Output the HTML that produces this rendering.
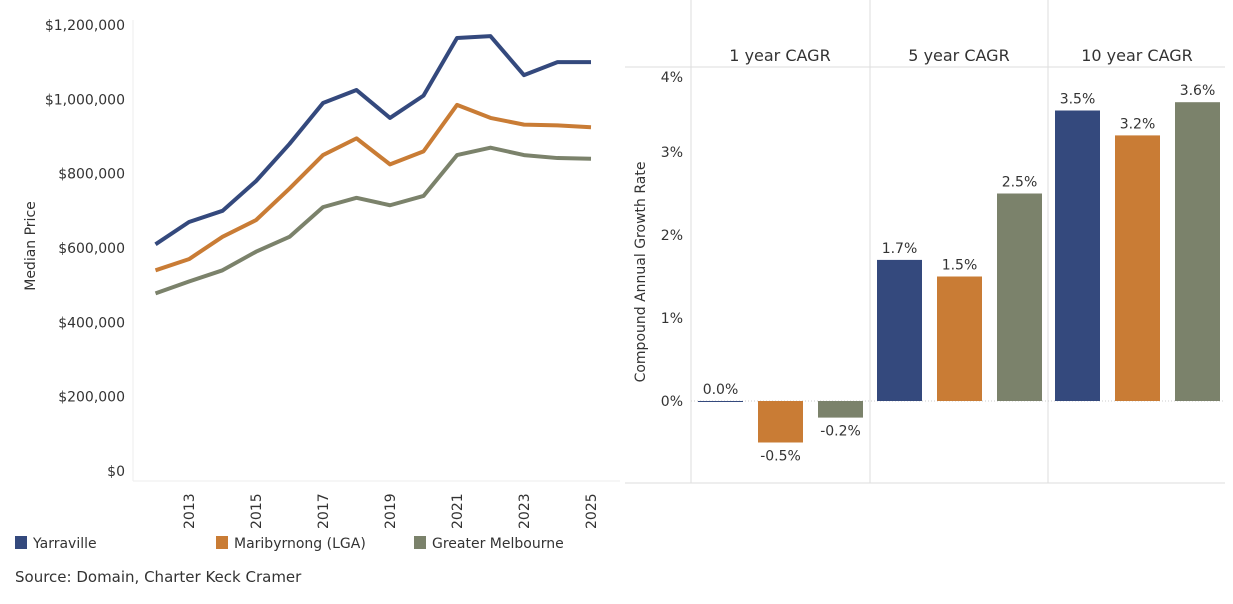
<!DOCTYPE html>
<html><head><meta charset="utf-8"><style>
body{margin:0;background:#fff;width:1233px;height:600px;overflow:hidden;font-family:"DejaVu Sans","Liberation Sans",sans-serif;}
svg text{font-family:"DejaVu Sans","Liberation Sans",sans-serif;fill:#333;}
</style></head><body>
<svg id="c" width="1233" height="600"></svg>
<script>
const years=[2012,2013,2014,2015,2016,2017,2018,2019,2020,2021,2022,2023,2024,2025];
const yarraville=[610,670,700,780,880,990,1025,950,1010,1165,1170,1065,1100,1100];
const maribyrnong=[540,570,630,675,760,850,895,825,860,985,950,932,930,925];
const greaterMelb=[478,510,540,590,630,710,735,715,740,850,870,850,842,840];
const priceTicks=[0,200,400,600,800,1000,1200];
const priceTickLabels=["$0","$200,000","$400,000","$600,000","$800,000","$1,000,000","$1,200,000"];
const yearTicks=[2013,2015,2017,2019,2021,2023,2025];
const panes=["1 year CAGR","5 year CAGR","10 year CAGR"];
const cagrYarraville=[0.0,1.7,3.5];
const cagrMaribyrnong=[-0.5,1.5,3.2];
const cagrGreater=[-0.2,2.5,3.6];
const pctTicks=[0,1,2,3,4];
const seriesNames=["Yarraville","Maribyrnong (LGA)","Greater Melbourne"];
const colors=["#34497d","#c97c35","#7b826b"];

const NS="http://www.w3.org/2000/svg";
const svg=document.getElementById('c');
function el(tag,attrs,parent){const e=document.createElementNS(NS,tag);for(const k in attrs)e.setAttribute(k,attrs[k]);(parent||svg).appendChild(e);return e;}
function tx(x,y,s,attrs){const e=el('text',Object.assign({x:x,y:y},attrs||{}));e.textContent=s;return e;}

// ----- line chart
const xL=y=>155.5+(y-2012)*33.5;
const yL=v=>471-v*(446/1200);
const ax=el('line',{x1:133,y1:20,x2:133,y2:481,stroke:'#eee'});


const bx=el('line',{x1:133,y1:481,x2:620,y2:481,stroke:'#eee'});


priceTicks.forEach((v,i)=>{const t=tx(125,yL(v)+5,priceTickLabels[i],{'text-anchor':'end','font-size':'14'});

});
yearTicks.forEach(y=>{const t=tx(0,0,String(y),{'font-size':'14','transform':`translate(${xL(y)+5},529) rotate(-90)`});

});
const yt=tx(0,0,'Median Price',{'font-size':'14','text-anchor':'middle','transform':'translate(35,246) rotate(-90)'});


[yarraville,maribyrnong,greaterMelb].forEach((s,i)=>{
 const p=el('polyline',{points:s.map((v,j)=>xL(years[j])+','+yL(v)).join(' '),fill:'none',stroke:colors[i],'stroke-width':'4','stroke-linejoin':'round'});
 
 
});

// ----- bar chart
const yB=v=>401-v*83;
const paneX=[691,870,1048];
const paneW=178;
el('line',{x1:625,y1:67,x2:1225,y2:67,stroke:'#ddd'});
el('line',{x1:625,y1:483,x2:1225,y2:483,stroke:'#ddd'});
paneX.forEach(x=>el('line',{x1:x,y1:0,x2:x,y2:483,stroke:'#ddd'}));
el('line',{x1:691,y1:401,x2:1225,y2:401,stroke:'#ccc','stroke-dasharray':'1,2'});
panes.forEach((p,i)=>{const t=tx(paneX[i]+paneW/2,61,p,{'text-anchor':'middle','font-size':'16'});

});
pctTicks.forEach(v=>{const t=tx(683,Math.max(yB(v)+5,82),v+'%',{'text-anchor':'end','font-size':'14'});

});
const bt=tx(0,0,'Compound Annual Growth Rate',{'font-size':'14','text-anchor':'middle','transform':'translate(645,272) rotate(-90)'});


[cagrYarraville,cagrMaribyrnong,cagrGreater].forEach((s,si)=>{
 s.forEach((v,pi)=>{
  const x=paneX[pi]+7+si*60,w=45;
  const y0=yB(Math.max(v,0)),h=Math.max(Math.abs(yB(v)-yB(0)),1);
  const r=el('rect',{x:x,y:y0,width:w,height:h,fill:colors[si]});
  
  
  const ly=v>=0?y0-7:y0+h+18;
  const l=tx(x+w/2,ly,v.toFixed(1)+'%',{'text-anchor':'middle','font-size':'14'});
  
  
 });
});

// ----- legend & source
const lx=[15,216,414];
seriesNames.forEach((n,i)=>{
 const g=el('g',{});
 
 
 el('rect',{x:lx[i],y:536,width:12,height:13,fill:colors[i]},g);
 const t=tx(lx[i]+18,548,n,{'font-size':'14'});g.appendChild(t);
});
const src=tx(15,582,'Source: Domain, Charter Keck Cramer',{'font-size':'15'});


</script>
</body></html>
